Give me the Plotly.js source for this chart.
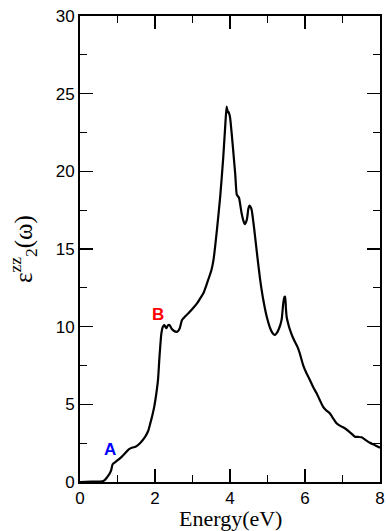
<!DOCTYPE html>
<html>
<head>
<meta charset="utf-8">
<script src="https://cdn.plot.ly/plotly-3.0.1.min.js"></script>
<style>html,body{margin:0;padding:0;background:#fff;}#chart{width:386px;height:531px;}</style>
</head>
<body>
<div id="chart"></div>
<script>
const energy = [0, 0.3, 0.6, 0.66, 0.72, 0.78, 0.83, 0.87, 0.95, 1.08, 1.2, 1.30, 1.40, 1.48, 1.6, 1.74, 1.82, 1.875, 1.93, 1.98, 2.03, 2.08, 2.12, 2.17, 2.21, 2.25, 2.30, 2.35, 2.39, 2.45, 2.50, 2.55, 2.60, 2.66, 2.72, 2.80, 2.89, 3.0, 3.12, 3.2, 3.29, 3.36, 3.43, 3.50, 3.56, 3.65, 3.74, 3.82, 3.88, 3.91, 3.94, 3.96, 4.0, 4.05, 4.09, 4.14, 4.18, 4.21, 4.24, 4.31, 4.36, 4.40, 4.45, 4.49, 4.52, 4.55, 4.58, 4.64, 4.73, 4.80, 4.89, 4.98, 5.09, 5.15, 5.20, 5.25, 5.29, 5.34, 5.38, 5.42, 5.45, 5.47, 5.49, 5.51, 5.55, 5.60, 5.66, 5.73, 5.80, 5.86, 5.95, 6.04, 6.13, 6.22, 6.31, 6.40, 6.48, 6.57, 6.66, 6.75, 6.84, 6.95, 7.06, 7.2, 7.33, 7.42, 7.51, 7.62, 7.73, 7.88, 8.0];
const eps2zz = [0, 0.02, 0.05, 0.12, 0.3, 0.5, 0.75, 1.14, 1.3, 1.55, 1.85, 2.1, 2.22, 2.27, 2.5, 2.92, 3.3, 3.78, 4.3, 4.85, 5.6, 6.57, 8.07, 9.57, 10.0, 10.1, 9.9, 10.1, 10.1, 9.85, 9.74, 9.68, 9.68, 9.9, 10.43, 10.65, 10.86, 11.15, 11.5, 11.8, 12.15, 12.6, 13.1, 13.6, 14.3, 16.2, 18.4, 20.9, 23.2, 24.17, 23.8, 23.84, 23.5, 22.3, 21.2, 19.8, 18.5, 18.4, 18.3, 17.3, 16.8, 16.6, 16.9, 17.6, 17.8, 17.7, 17.5, 16.4, 14.5, 13.1, 11.7, 10.64, 9.79, 9.55, 9.47, 9.6, 9.79, 10.1, 10.5, 11.5, 11.9, 11.93, 11.2, 10.64, 10.2, 9.79, 9.4, 9.03, 8.7, 8.29, 7.53, 7.0, 6.57, 6.1, 5.71, 5.25, 4.85, 4.6, 4.42, 4.1, 3.78, 3.6, 3.46, 3.2, 2.92, 2.9, 2.88, 2.7, 2.53, 2.35, 2.2];
const xTicks = [0, 2, 4, 6, 8];
const yTicks = [0, 5, 10, 15, 20, 25, 30];
const peakLabels = ["A", "B"];
const peakX = [0.81, 2.09];
const peakY = [2.12, 10.8];
const peakColors = ["#0000ff", "#ff0000"];

const tickFont = {family: "Liberation Sans, Arial, sans-serif", size: 17, color: "#000"};
const titleFont = {family: "Liberation Serif, Times New Roman, serif", color: "#000"};

const annotations = peakLabels.map((t, i) => ({
  text: "<b>" + t + "</b>", x: peakX[i], y: peakY[i], xref: "x", yref: "y",
  showarrow: false, font: {family: "Liberation Sans, Arial, sans-serif", size: 17, color: peakColors[i]},
  xanchor: "center", yanchor: "middle"
}));
annotations.push({
  text: "Energy(eV)", xref: "paper", yref: "paper", x: 0.5, y: -0.078,
  xanchor: "center", yanchor: "middle", showarrow: false,
  font: Object.assign({size: 22}, titleFont)
});
annotations.push({
  text: "ε<sup>zz</sup><sub>2</sub>(ω)", xref: "paper", yref: "paper", x: -0.19, y: 0.5,
  xanchor: "center", yanchor: "middle", showarrow: false, textangle: -90,
  font: Object.assign({size: 25}, titleFont)
});

const axisCommon = {
  showgrid: false, zeroline: false, showline: true, linecolor: "#000", linewidth: 2,
  mirror: "ticks", ticks: "inside", ticklen: 13, tickwidth: 1.2, tickcolor: "#000",
  tickfont: tickFont, tickmode: "array"
};

const layout = {
  width: 386, height: 531,
  margin: {l: 80, r: 6, t: 16, b: 49},
  paper_bgcolor: "#fff", plot_bgcolor: "#fff",
  showlegend: false,
  xaxis: Object.assign({}, axisCommon, {
    range: [0, 8], tickvals: xTicks, ticktext: xTicks.map(String),
    minor: {ticks: "inside", ticklen: 7, tickwidth: 1.2, tickcolor: "#000", dtick: 1, showgrid: false}
  }),
  yaxis: Object.assign({}, axisCommon, {
    range: [0, 30], tickvals: yTicks, ticktext: yTicks.map(String),
    minor: {ticks: "inside", ticklen: 7, tickwidth: 1.2, tickcolor: "#000", dtick: 2.5, showgrid: false}
  }),
  annotations: annotations
};

Plotly.newPlot("chart", [{
  x: energy, y: eps2zz, type: "scatter", mode: "lines",
  line: {color: "#000", width: 2.2, shape: "spline", smoothing: 0.5},
  cliponaxis: true, hoverinfo: "skip"
}], layout, {staticPlot: true});
</script>
</body>
</html>
